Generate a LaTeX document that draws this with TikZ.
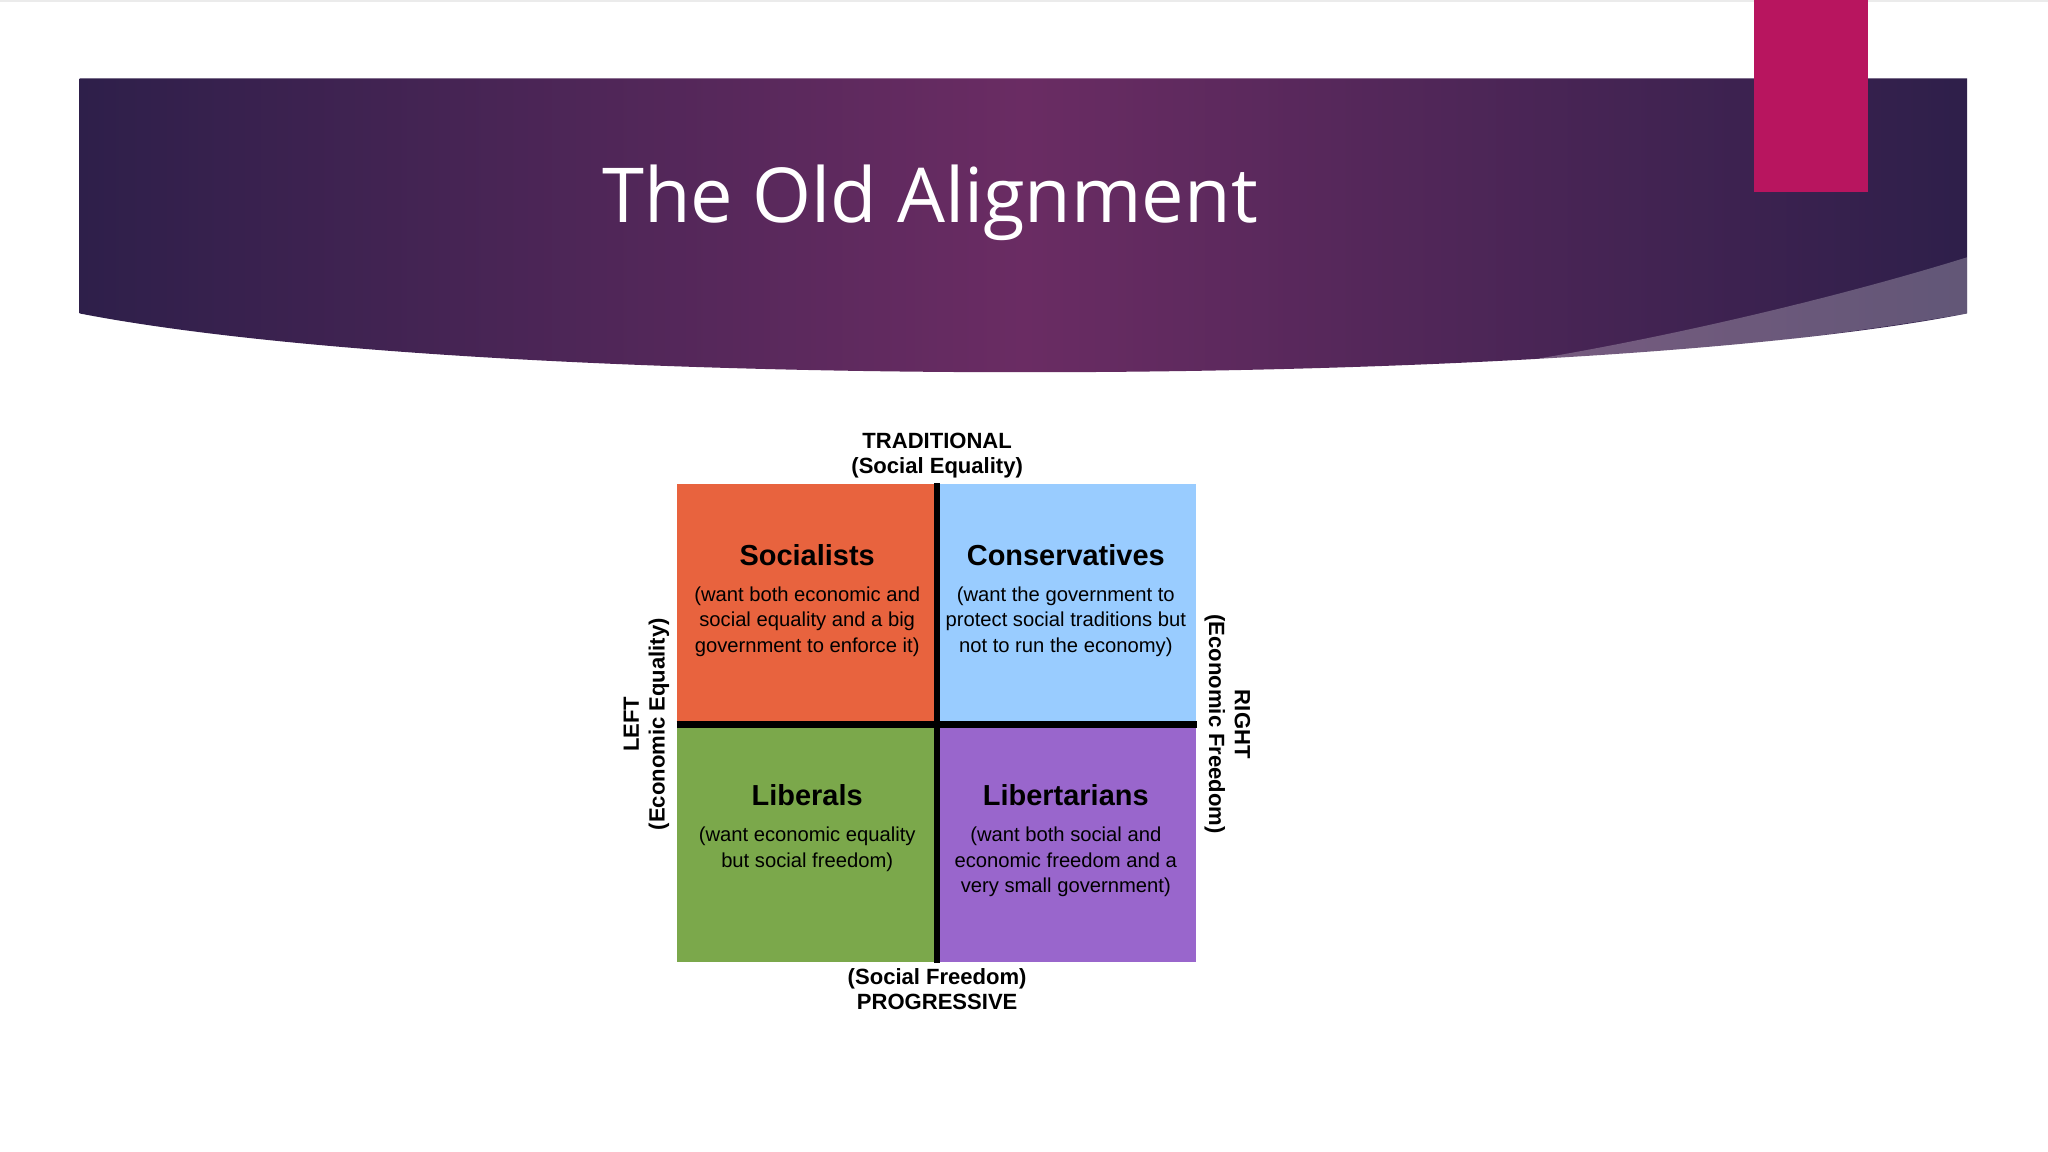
\documentclass[tikz,border=0pt]{standalone}
\usepackage{fontspec}
\setmainfont{Liberation Sans}
\newfontfamily\titlefont{Open Sans}
\usetikzlibrary{positioning, calc}

\definecolor{bannerdark}{HTML}{2E1F4A}
\definecolor{bannermid}{HTML}{6A2C63}
\definecolor{pinkbar}{HTML}{B8155F}
\definecolor{socred}{HTML}{E8633E}
\definecolor{conblue}{HTML}{99CCFF}
\definecolor{libgreen}{HTML}{7BA84B}
\definecolor{lbtpurple}{HTML}{9966CC}

\begin{document}
\begin{tikzpicture}[
    x=0.01cm, y=-0.01cm,
    every node/.style={font=\fontsize{4.4}{5.6}\selectfont, align=center, inner sep=0pt},
    quad/.style={minimum width=1.98cm, minimum height=1.83cm, anchor=north west}, % 象限
    head/.style={font=\bfseries\fontsize{6.3}{7.5}\selectfont},
    axislab/.style={font=\bfseries\fontsize{4.8}{5.6}\selectfont}
]
    % 背景
    \fill[white] (0,0) rectangle (1568,882);
    \fill[black!8] (0,0) rectangle (1568,1.5);

    % 标题横幅
    \shade[left color=bannerdark, right color=bannerdark, middle color=bannermid]
        (61,60) -- (1506,60) -- (1506,240) .. controls (1200,300) and (370,300) .. (61,240) -- cycle;
    \fill[white, opacity=0.25] (1506,197) .. controls (1400,230) and (1250,265) .. (1130,282)
        .. controls (1300,270) and (1420,255) .. (1506,240) -- cycle;
    \fill[pinkbar] (1343,0) rectangle (1430,147);
    \node[text=white, font=\titlefont\fontsize{16.5}{20}\selectfont] (title) at (712,155) {The Old Alignment};

    % 1. 四个象限
    \node[quad, fill=socred] (soc) at (518,370) {};
    \node[quad, fill=conblue] (con) at (717,370) {};
    \node[quad, fill=libgreen] (lib) at (518,553) {};
    \node[quad, fill=lbtpurple] (lbt) at (717,553) {};

    % 2. 分隔线
    \draw[line width=0.05cm] (soc.north east) -- (lib.south east);
    \draw[line width=0.05cm] (soc.south west) -- (con.south east);

    % 3. 象限文字
    \node[head] at (618,425) {Socialists};
    \node at (618,476) {(want both economic and\\social equality and a big\\government to enforce it)};
    \node[head] at (816,425) {Conservatives};
    \node at (816,476) {(want the government to\\protect social traditions but\\not to run the economy)};
    \node[head] at (618,609) {Liberals};
    \node at (618,650) {(want economic equality\\but social freedom)};
    \node[head] at (816,609) {Libertarians};
    \node at (816,660) {(want both social and\\economic freedom and a\\very small government)};

    % 4. 坐标轴标注
    \node[axislab, above=0.03cm of soc.north east] (top) {TRADITIONAL\\(Social Equality)};
    \node[axislab, below=0.03cm of lib.south east] (bottom) {(Social Freedom)\\PROGRESSIVE};
    \node[axislab, rotate=90, anchor=south] (left) at ($(soc.south west)+(-5,0)$) {LEFT\\(Economic Equality)};
    \node[axislab, rotate=-90, anchor=south] (right) at ($(con.south east)+(5,0)$) {RIGHT\\(Economic Freedom)};
\end{tikzpicture}
\end{document}
